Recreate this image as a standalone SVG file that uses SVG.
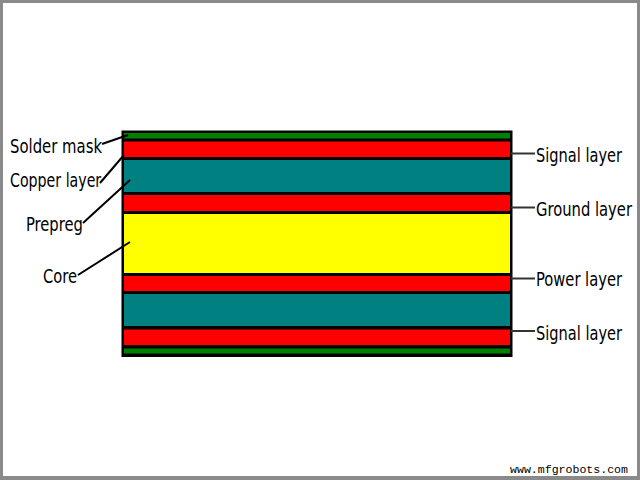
<svg xmlns="http://www.w3.org/2000/svg" width="640" height="480" viewBox="0 0 640 480">
<style>
.lbl{font-family:"DejaVu Sans Condensed","DejaVu Sans",sans-serif;font-size:20px;fill:#000}
.ln{stroke:#000;stroke-width:2;fill:none}
.rl{stroke:#333;stroke-width:2;fill:none}
.wm{font-family:"Liberation Mono",monospace;font-size:11.5px;fill:#000}
</style>
<rect x="0" y="0" width="640" height="480" fill="#8a8a8a"/>
<rect x="3" y="3" width="634" height="473" fill="#fff"/>
<g id="stack">
<rect x="121.5" y="130.5" width="391" height="226.5" fill="#000"/>
<rect id="solder-top" x="124" y="133" width="386" height="5.5" fill="#008000"/>
<rect id="copper-1" x="124" y="141.5" width="386" height="15.5" fill="#ff0000"/>
<rect id="prepreg-1" x="124" y="160" width="386" height="32" fill="#008080"/>
<rect id="copper-2" x="124" y="195" width="386" height="16" fill="#ff0000"/>
<rect id="core" x="124" y="214" width="386" height="59" fill="#ffff00"/>
<rect id="copper-3" x="124" y="276" width="386" height="15" fill="#ff0000"/>
<rect id="prepreg-2" x="124" y="294" width="386" height="32" fill="#008080"/>
<rect id="copper-4" x="124" y="329.5" width="386" height="15.5" fill="#ff0000"/>
<rect id="solder-bottom" x="124" y="348.5" width="386" height="5" fill="#008000"/>
</g>
<g id="connectors">
<line class="ln" x1="102" y1="144" x2="128" y2="135"/>
<line class="ln" x1="100" y1="183" x2="124" y2="155"/>
<line class="ln" x1="83" y1="223" x2="130" y2="180"/>
<line class="ln" x1="78" y1="275" x2="130" y2="242"/>
<line class="rl" x1="511" y1="153.5" x2="535" y2="153.5"/>
<line class="rl" x1="511" y1="207.5" x2="535" y2="207.5"/>
<line class="rl" x1="511" y1="278.5" x2="535" y2="278.5"/>
<line class="rl" x1="511" y1="331" x2="535" y2="331"/>
</g>
<g id="label-solder"><text class="lbl" transform="translate(10,153) scale(0.8,1)" textLength="115" lengthAdjust="spacingAndGlyphs">Solder mask</text></g>
<g id="label-copper"><text class="lbl" transform="translate(10,187) scale(0.8,1)" textLength="114" lengthAdjust="spacingAndGlyphs">Copper layer</text></g>
<g id="label-prepreg"><text class="lbl" transform="translate(26,231) scale(0.8,1)" textLength="71" lengthAdjust="spacingAndGlyphs">Prepreg</text></g>
<g id="label-core"><text class="lbl" transform="translate(43,283) scale(0.8,1)" textLength="42.5" lengthAdjust="spacingAndGlyphs">Core</text></g>
<g id="label-signal-1"><text class="lbl" transform="translate(536,161.5) scale(0.8,1)" textLength="107.5" lengthAdjust="spacingAndGlyphs">Signal layer</text></g>
<g id="label-ground"><text class="lbl" transform="translate(536,215.5) scale(0.8,1)" textLength="120" lengthAdjust="spacingAndGlyphs">Ground layer</text></g>
<g id="label-power"><text class="lbl" transform="translate(536,285.5) scale(0.8,1)" textLength="107.5" lengthAdjust="spacingAndGlyphs">Power layer</text></g>
<g id="label-signal-2"><text class="lbl" transform="translate(536,339.5) scale(0.8,1)" textLength="107.5" lengthAdjust="spacingAndGlyphs">Signal layer</text></g>
<text class="wm" x="510" y="473" textLength="118" lengthAdjust="spacingAndGlyphs">www.mfgrobots.com</text>
</svg>
